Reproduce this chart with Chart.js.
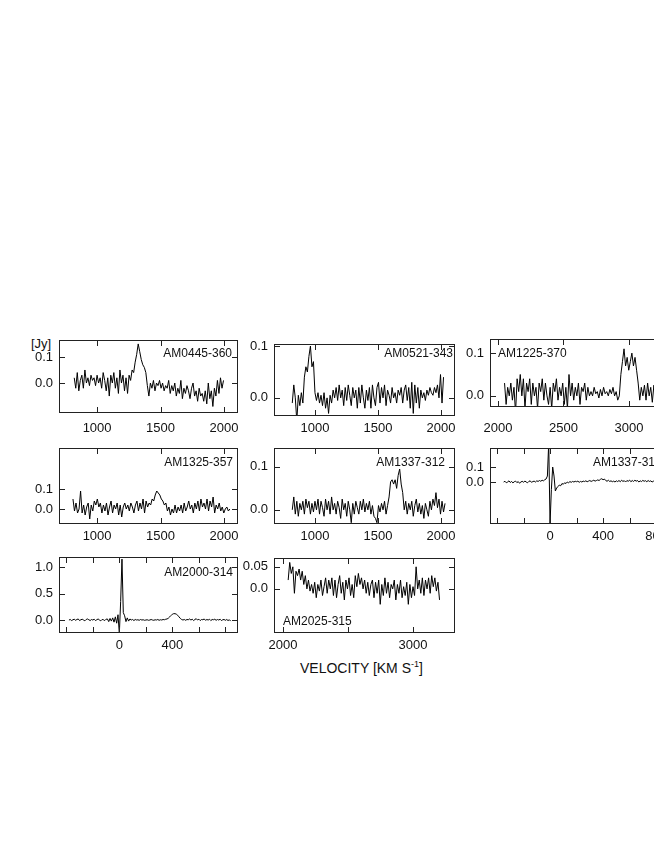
<!DOCTYPE html>
<html>
<head>
<meta charset="utf-8">
<script src="https://cdn.jsdelivr.net/npm/chart.js@4/dist/chart.umd.min.js"></script>
<style>
  html, body { margin: 0; padding: 0; background: #fff; overflow: hidden; }
  #page { position: relative; width: 654px; height: 846px; overflow: hidden; }
  #page canvas { position: absolute; }
  .txt { position: absolute; font-family: "Liberation Sans", Arial, sans-serif; color: #111; white-space: nowrap; }
</style>
</head>
<body>
<div id="page">
  <div class="txt" style="left:31px;top:337px;font-size:13px;line-height:14px;">[Jy]</div>
  <div class="txt" style="left:300px;top:656px;font-size:14px;line-height:16px;">VELOCITY [KM S<sup style="font-size:9px;">-1</sup>]</div>
</div>
<script>
// HI profiles, flux density in Jy, channels start at startXXXX and step stepXXXX km/s
const names = ['AM0445-360', 'AM0521-343', 'AM1225-370', 'AM1325-357',
               'AM1337-312', 'AM1337-313', 'AM2000-314', 'AM2025-315'];

const start0445 = 820, step0445 = 12;
const flux0445 = [0.02, -0.02, 0.04, -0.03, 0.01, 0.03, -0.02, 0.05, 0.00, 0.02,
  -0.01, 0.03, 0.01, 0.02, -0.01, 0.03, 0.00, 0.02, -0.02, 0.04,
  0.01, -0.03, 0.02, -0.05, 0.03, 0.00, 0.04, -0.02, 0.02, -0.04,
  0.05, 0.00, 0.03, -0.03, 0.02, -0.04, 0.03, 0.01, 0.05, 0.04,
  0.08, 0.11, 0.15, 0.12, 0.09, 0.07, 0.06, 0.04, -0.01, -0.05,
  0.00, -0.02, 0.01, -0.03, 0.00, -0.01, 0.01, -0.02, 0.00, -0.03,
  -0.01, -0.02, 0.01, -0.04, -0.01, -0.03, 0.00, -0.05, -0.02, -0.04,
  0.01, -0.06, -0.02, -0.04, -0.01, -0.03, -0.06, -0.02, 0.00, -0.05,
  -0.03, -0.07, -0.02, -0.05, -0.04, -0.07, -0.03, -0.08, 0.00, -0.06,
  -0.03, -0.09, -0.02, -0.05, 0.01, -0.04, 0.02, -0.02, 0.01];

const start0521 = 820, step0521 = 12;
const flux0521 = [-0.01, 0.025, 0.00, -0.045, 0.005, -0.015, 0.01, -0.01, 0.04, 0.06,
  0.05, 0.08, 0.10, 0.06, 0.07, 0.01, -0.005, 0.01, -0.01, 0.005,
  -0.015, 0.01, -0.02, 0.00, -0.03, 0.005, -0.01, 0.015, 0.00, 0.02,
  -0.005, 0.025, 0.00, 0.015, -0.015, 0.02, -0.005, 0.025, 0.005, -0.015,
  0.02, 0.00, 0.015, -0.02, 0.02, -0.01, 0.025, 0.00, -0.02, 0.015,
  -0.005, 0.02, -0.02, 0.025, 0.00, -0.015, 0.02, 0.03, -0.01, 0.02,
  0.00, 0.025, -0.015, 0.015, 0.005, -0.01, 0.02, 0.00, 0.01, -0.01,
  0.015, 0.005, 0.02, -0.01, 0.015, 0.025, -0.005, 0.02, -0.02, 0.03,
  -0.03, 0.025, -0.01, 0.02, -0.02, 0.015, 0.00, 0.01, -0.005, 0.015,
  0.005, 0.02, 0.01, 0.005, 0.02, 0.01, 0.025, 0.00, 0.045, -0.01, 0.04];

const start1225 = 2050, step1225 = 12;
const flux1225 = [0.03, -0.02, 0.02, 0.00, 0.03, -0.01, 0.02, -0.04, 0.04, 0.01,
  0.05, 0.00, 0.04, -0.03, 0.03, 0.01, 0.04, -0.02, 0.03, 0.00,
  0.02, -0.03, 0.03, 0.01, 0.04, -0.01, 0.03, 0.00, -0.02, 0.02,
  -0.03, 0.03, 0.01, 0.04, -0.01, 0.02, 0.00, 0.03, -0.02, 0.02,
  -0.03, 0.05, 0.00, 0.03, -0.01, 0.02, 0.00, 0.03, -0.02, 0.02,
  0.01, 0.03, -0.01, 0.02, 0.00, 0.01, 0.00, 0.02, 0.005, 0.01,
  -0.005, 0.015, 0.00, 0.02, 0.005, 0.01, 0.00, 0.015, 0.005, 0.02,
  0.00, 0.01, -0.01, 0.00, 0.05, 0.08, 0.11, 0.07, 0.09, 0.06,
  0.08, 0.10, 0.07, 0.09, 0.06, 0.03, -0.01, 0.02, 0.00, 0.025,
  -0.01, 0.03, 0.00, 0.02, -0.015, 0.025, 0.00, 0.02, -0.01, 0.015, 0.005];

const start1325 = 810, step1325 = 12;
const flux1325 = [0.05, -0.01, 0.03, -0.02, 0.00, 0.09, -0.02, 0.02, -0.03, 0.01,
  0.03, -0.05, 0.02, -0.01, 0.04, 0.02, 0.05, 0.01, 0.03, -0.02,
  0.02, -0.01, 0.03, -0.03, 0.01, 0.04, -0.02, 0.02, 0.00, 0.03,
  -0.03, 0.02, -0.04, 0.01, 0.03, 0.00, 0.02, -0.01, 0.03, 0.01,
  -0.02, 0.02, 0.04, -0.01, 0.03, 0.00, 0.05, -0.02, 0.04, 0.01,
  0.03, 0.02, 0.05, 0.04, 0.07, 0.09, 0.08, 0.07, 0.05, 0.04,
  0.02, 0.03, -0.01, 0.01, -0.03, 0.00, -0.02, 0.02, -0.02, 0.01,
  -0.01, 0.02, -0.02, 0.03, -0.01, 0.01, 0.04, 0.00, 0.02, -0.02,
  0.03, 0.00, 0.04, -0.01, 0.05, 0.01, 0.03, 0.00, 0.05, -0.01,
  0.04, 0.01, 0.06, -0.02, 0.02, 0.00, 0.03, -0.01, 0.01, -0.02,
  0.00, 0.01, -0.01, 0.00];

const start1337 = 820, step1337 = 12;
const flux1337 = [0.00, 0.03, -0.01, 0.02, -0.015, 0.015, 0.00, 0.02, -0.01, 0.025,
  0.005, 0.02, -0.01, 0.015, -0.005, 0.02, 0.00, 0.025, -0.01, 0.02,
  0.005, -0.015, 0.025, 0.00, 0.02, -0.01, 0.03, 0.00, 0.015, -0.01,
  0.02, 0.005, -0.02, 0.025, 0.00, 0.015, -0.015, 0.02, 0.00, -0.03,
  0.015, -0.01, 0.02, 0.005, -0.01, 0.02, 0.00, 0.025, -0.005, 0.015,
  0.00, 0.02, -0.01, 0.01, -0.015, -0.02, -0.03, 0.01, -0.005, 0.015,
  0.00, 0.02, -0.01, 0.01, 0.03, 0.065, 0.07, 0.06, 0.07, 0.05,
  0.08, 0.095, 0.06, 0.04, 0.00, 0.02, -0.01, 0.015, 0.00, 0.02,
  -0.015, 0.01, 0.025, -0.005, 0.015, -0.01, 0.01, -0.02, 0.015, 0.00,
  -0.015, 0.02, 0.00, 0.025, 0.01, 0.04, 0.005, 0.025, -0.01, 0.02,
  -0.005, 0.015];

const start1337b = -350, step1337b = 10;
const flux1337b = [0.00, 0.005, -0.005, 0.00, 0.008, -0.003, 0.004, -0.006, 0.002, 0.006,
  -0.004, 0.003, -0.008, 0.00, 0.005, -0.002, 0.007, 0.00, -0.005, 0.004,
  0.008, -0.002, 0.003, 0.006, 0.00, 0.008, 0.004, 0.01, 0.005, 0.012,
  0.008, 0.015, 0.02, 0.04, 0.26, -0.28, -0.05, 0.10, 0.04, -0.06,
  -0.04, -0.03, -0.02, -0.025, -0.01, -0.015, -0.005, -0.01, 0.00, -0.005,
  0.003, -0.002, 0.004, 0.00, 0.005, 0.002, 0.006, -0.002, 0.004, 0.00,
  0.006, 0.003, 0.008, 0.002, 0.006, 0.01, 0.004, 0.008, 0.012, 0.006,
  0.01, 0.014, 0.01, 0.018, 0.022, 0.015, 0.02, 0.01, 0.005, 0.012,
  0.004, 0.008, 0.002, 0.006, 0.00, 0.008, 0.003, 0.01, 0.002, 0.012,
  0.004, 0.009, 0.00, 0.01, 0.005, 0.013, 0.002, 0.01, 0.004, 0.012,
  0.006, 0.01, 0.00, 0.008, 0.003, 0.011, 0.005, 0.009, 0.002, 0.01,
  0.004, 0.008, 0.00, 0.006, 0.002, 0.007, 0.00, 0.005, -0.002, 0.004, 0.00];

const start2000 = -380, step2000 = 10;
const flux2000 = [0.00, 0.01, -0.01, 0.005, 0.015, -0.005, 0.01, 0.02, -0.01, 0.005,
  0.015, 0.00, -0.015, 0.01, 0.02, 0.005, -0.01, 0.01, 0.00, 0.015,
  -0.01, 0.005, 0.02, 0.00, -0.015, 0.01, 0.005, -0.01, 0.015,
  0.02, -0.03, 0.03, -0.02, 0.04, -0.04, 0.06, -0.06,
  0.10, -0.26, 0.35, 1.15, 0.14, 0.08, -0.03, 0.04, -0.02, 0.02,
  0.00, 0.01, -0.01, 0.01, 0.00, 0.005, -0.005, 0.01, 0.00, 0.005,
  -0.005, 0.00, 0.005, -0.005, 0.00, 0.01, 0.00, -0.005, 0.005, 0.00,
  0.01, -0.005, 0.005, 0.00, 0.01, 0.005, 0.015, 0.02, 0.035, 0.06,
  0.085, 0.11, 0.12, 0.12, 0.11, 0.09, 0.06, 0.03, 0.01, 0.00,
  0.01, -0.005, 0.01, 0.005, 0.02, 0.00, 0.015, -0.01, 0.01, 0.025,
  0.00, 0.015, -0.01, 0.01, 0.005, 0.02, -0.005, 0.01, 0.00, 0.015,
  -0.01, 0.01, 0.005, 0.015, -0.005, 0.01, 0.00, 0.015, -0.01, 0.005,
  0.01, -0.005, 0.01, -0.01, 0.005, -0.02];

const start2025 = 2040, step2025 = 12;
const flux2025 = [0.02, 0.06, 0.035, 0.05, -0.01, 0.04, 0.03, 0.045, 0.02, 0.04,
  0.01, 0.03, 0.00, 0.02, -0.005, 0.01, -0.01, 0.015, -0.02, 0.01,
  -0.005, 0.02, -0.015, 0.005, 0.025, -0.01, 0.02, 0.00, 0.025, -0.015,
  0.02, -0.02, 0.01, 0.03, -0.01, 0.015, -0.025, 0.02, 0.00, 0.025,
  -0.015, 0.01, -0.02, 0.03, 0.005, 0.035, 0.01, 0.025, 0.00, 0.02,
  -0.01, 0.015, -0.015, 0.01, 0.02, -0.02, 0.015, -0.01, 0.02, -0.035,
  0.01, -0.015, 0.025, -0.01, 0.015, -0.02, 0.01, 0.00, 0.02, -0.025,
  0.01, -0.01, 0.02, -0.02, 0.005, -0.015, 0.015, -0.035, 0.01, -0.02,
  0.005, -0.015, 0.05, 0.00, 0.02, -0.01, 0.025, -0.015, 0.02, 0.00,
  0.025, -0.01, 0.03, 0.005, 0.025, -0.005, 0.015, -0.025];

// tick values and tick labels
const ticksOptical = [1000, 1500, 2000];
const ticksHigh = [2000, 2500, 3000];
const labelsHigh = [2000, 3000];
const ticksLow = [-400, -200, 0, 200, 400, 600, 800];
const labelsLow = [0, 400, 800];
const labelsLowShort = [0, 400];
const yTicksSmall = [0, 0.1];
const yLabelsSmall = ['0.0', '0.1'];
const yTicksBig = [0, 0.5, 1.0];
const yLabelsBig = ['0.0', '0.5', '1.0'];
const yTicksTiny = [0, 0.05];
const yLabelsTiny = ['0.0', '0.05'];

// layout: frame = [left, top, right, bottom] in page pixels
const panels = [
  { flux: flux0445, start: start0445, step: step0445, frame: [59, 340, 238, 413], xr: [700, 2110], yr: [-0.115, 0.165],
    xt: ticksOptical, xl: ticksOptical, yt: yTicksSmall, yl: yLabelsSmall, name: names[0], align: 'right', nx: 232, ny: 354, ly: 428 },
  { flux: flux0521, start: start0521, step: step0521, frame: [274, 344, 455, 416], xr: [675, 2111], yr: [-0.035, 0.104],
    xt: ticksOptical, xl: ticksOptical, yt: yTicksSmall, yl: yLabelsSmall, name: names[1], align: 'right', nx: 453, ny: 354, ly: 428 },
  { flux: flux1225, start: start1225, step: step1225, frame: [490, 339, 670, 407], xr: [1939, 3313], yr: [-0.026, 0.133],
    xt: ticksHigh, xl: ticksHigh, yt: yTicksSmall, yl: yLabelsSmall, name: names[2], align: 'left', nx: 498, ny: 354, ly: 428 },
  { flux: flux1325, start: start1325, step: step1325, frame: [59, 448, 238, 524], xr: [700, 2110], yr: [-0.075, 0.305],
    xt: ticksOptical, xl: ticksOptical, yt: yTicksSmall, yl: yLabelsSmall, name: names[3], align: 'right', nx: 233, ny: 463, ly: 536 },
  { flux: flux1337, start: start1337, step: step1337, frame: [274, 448, 455, 524], xr: [675, 2111], yr: [-0.033, 0.144],
    xt: ticksOptical, xl: ticksOptical, yt: yTicksSmall, yl: yLabelsSmall, name: names[4], align: 'right', nx: 445, ny: 463, ly: 536 },
  { flux: flux1337b, start: start1337b, step: step1337b, frame: [490, 448, 670, 524], xr: [-453, 905], yr: [-0.28, 0.227],
    xt: ticksLow, xl: labelsLow, yt: yTicksSmall, yl: yLabelsSmall, name: names[5], align: 'left', nx: 593, ny: 463, ly: 536 },
  { flux: flux2000, start: start2000, step: step2000, frame: [59, 557, 238, 633], xr: [-455, 895], yr: [-0.245, 1.19],
    xt: ticksLow, xl: labelsLowShort, yt: yTicksBig, yl: yLabelsBig, name: names[6], align: 'right', nx: 233, ny: 573, ly: 645 },
  { flux: flux2025, start: start2025, step: step2025, frame: [274, 558, 455, 633], xr: [1931, 3323], yr: [-0.1, 0.07],
    xt: ticksHigh, xl: labelsHigh, yt: yTicksTiny, yl: yLabelsTiny, name: names[7], align: 'left', nx: 283, ny: 622, ly: 645 }
];

const PAD_L = 45, PAD_T = 8, PAD_R = 10, PAD_B = 30;
const FONT = '"Liberation Sans", Arial, sans-serif';

// frame, inward ticks and texts, placed through the chart scales
function framePlugin(p, cx, cy) {
  return {
    id: 'frameTicks',
    afterDatasetsDraw(chart) {
      const { ctx, chartArea: a, scales: { x, y } } = chart;
      ctx.save();
      ctx.strokeStyle = '#222';
      ctx.lineWidth = 1;
      ctx.strokeRect(a.left + 0.5, a.top + 0.5, a.right - a.left - 1, a.bottom - a.top - 1);
      ctx.beginPath();
      p.xt.forEach(v => {
        const px = Math.round(x.getPixelForValue(v)) + 0.5;
        if (px < a.left || px > a.right) return;
        ctx.moveTo(px, a.top); ctx.lineTo(px, a.top + 6);
        ctx.moveTo(px, a.bottom); ctx.lineTo(px, a.bottom - 6);
      });
      p.yt.forEach(v => {
        const py = Math.round(y.getPixelForValue(v)) + 0.5;
        ctx.moveTo(a.left, py); ctx.lineTo(a.left + 6, py);
        ctx.moveTo(a.right, py); ctx.lineTo(a.right - 6, py);
      });
      ctx.stroke();

      ctx.fillStyle = '#111';
      ctx.font = '13px ' + FONT;
      ctx.textBaseline = 'middle';
      ctx.textAlign = 'center';
      p.xl.forEach(v => ctx.fillText(String(v), x.getPixelForValue(v), p.ly - cy));
      ctx.textAlign = 'right';
      p.yt.forEach((v, i) => ctx.fillText(p.yl[i], a.left - 6, y.getPixelForValue(v)));

      ctx.font = '12px ' + FONT;
      ctx.textAlign = p.align;
      ctx.fillText(p.name, p.nx - cx, p.ny - cy);
      ctx.restore();
    }
  };
}

const page = document.getElementById('page');

panels.forEach(p => {
  const [l, t, r, b] = p.frame;
  const cx = l - PAD_L, cy = t - PAD_T;
  const canvas = document.createElement('canvas');
  canvas.width = (r - l) + PAD_L + PAD_R;
  canvas.height = (b - t) + PAD_T + PAD_B;
  canvas.style.left = cx + 'px';
  canvas.style.top = cy + 'px';
  canvas.style.width = canvas.width + 'px';
  canvas.style.height = canvas.height + 'px';
  page.appendChild(canvas);

  const points = p.flux.map((f, i) => ({ x: p.start + i * p.step, y: f }));

  new Chart(canvas.getContext('2d'), {
    type: 'line',
    data: {
      datasets: [{
        data: points,
        borderColor: '#000',
        borderWidth: 1,
        pointRadius: 0,
        tension: 0,
        fill: false
      }]
    },
    options: {
      responsive: false,
      animation: false,
      devicePixelRatio: 1,
      layout: { padding: { left: PAD_L, top: PAD_T, right: PAD_R, bottom: PAD_B } },
      plugins: { legend: { display: false }, tooltip: { enabled: false } },
      scales: {
        x: { type: 'linear', min: p.xr[0], max: p.xr[1], display: false },
        y: { type: 'linear', min: p.yr[0], max: p.yr[1], display: false }
      }
    },
    plugins: [framePlugin(p, cx, cy)]
  });
});
</script>
</body>
</html>
